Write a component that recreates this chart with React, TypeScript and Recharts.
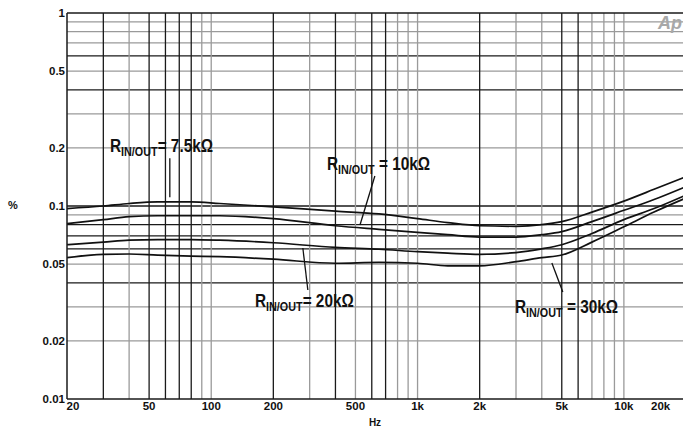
import React from 'react'
import { LineChart, Line, XAxis, YAxis, ReferenceLine } from 'recharts'

// frequency points (Hz) shared by all four curves
const freqs = [20, 30, 40, 55, 80, 110, 200, 400, 650, 1000, 1400, 2000, 3000, 4000, 5000, 7000, 10000, 14000, 20000]

// THD+N (%) for each R_IN/OUT value
const r7k5 = [0.097, 0.100, 0.103, 0.105, 0.105, 0.103, 0.099, 0.094, 0.091, 0.086, 0.082, 0.079, 0.0785, 0.080, 0.083, 0.093, 0.106, 0.122, 0.142]
const r10k = [0.081, 0.085, 0.088, 0.089, 0.089, 0.089, 0.086, 0.079, 0.0757, 0.073, 0.071, 0.069, 0.069, 0.071, 0.0736, 0.083, 0.095, 0.108, 0.126]
const r20k = [0.063, 0.065, 0.0665, 0.067, 0.067, 0.0665, 0.0645, 0.061, 0.0597, 0.058, 0.057, 0.0562, 0.0574, 0.060, 0.063, 0.072, 0.085, 0.097, 0.114]
const r30k = [0.054, 0.0562, 0.0564, 0.0557, 0.055, 0.0546, 0.053, 0.0505, 0.051, 0.0505, 0.049, 0.049, 0.0515, 0.054, 0.0557, 0.065, 0.078, 0.093, 0.110]

const xTicks = [20, 50, 100, 200, 500, 1000, 2000, 5000, 10000, 20000]
const xTickLabels = ['20', '50', '100', '200', '500', '1k', '2k', '5k', '10k', '20k']
const yTicks = [0.01, 0.02, 0.05, 0.1, 0.2, 0.5, 1]

// grid values (1-9 per decade)
const xGrid = [30, 40, 50, 60, 70, 80, 90, 100, 200, 300, 400, 500, 600, 700, 800, 900, 1000, 2000, 3000, 4000, 5000, 6000, 7000, 8000, 9000, 10000]
const yGrid = [0.02, 0.03, 0.04, 0.05, 0.06, 0.07, 0.08, 0.09, 0.1, 0.2, 0.3, 0.4, 0.5, 0.6, 0.7, 0.8, 0.9]
const xGridLight = [40, 90, 100, 300, 500, 800, 900, 1000, 3000, 4000, 7000, 8000, 9000, 10000]
const yGridLight = [0.02, 0.03, 0.05, 0.09, 0.2, 0.3, 0.5, 0.7, 0.8, 0.9]

// leader lines: [f1, v1, f2, v2]
const leaders = [
  [63, 0.177, 63, 0.111],
  [621, 0.143, 526, 0.0797],
  [278, 0.0606, 294, 0.0367],
  [4477, 0.0507, 5059, 0.0358],
]

const data = freqs.map((f, i) => ({ f, a: r7k5[i], b: r10k[i], c: r20k[i], d: r30k[i] }))

const DARK = '#1a1a1a'
const LIGHT = '#9a9a9a'
const tickFont = "'Liberation Sans', Arial, sans-serif"

function XTick(props: any) {
  const { x, y, payload } = props
  const i = xTicks.indexOf(payload.value)
  let anchor = 'middle'
  let dx = 0
  if (i === 0) dx = 6
  if (i === xTicks.length - 1) { anchor = 'start'; dx = -19 }
  return (
    <text x={x + dx} y={y + 11} textAnchor={anchor} fontFamily={tickFont} fontWeight="bold" fontSize={11.5} fill="#111">
      {xTickLabels[i]}
    </text>
  )
}

function Label({ x, y, value, spaced }: { x: number; y: number; value: string; spaced?: boolean }) {
  return (
    <text transform={`translate(${x},${y}) scale(0.83,1)`} fontFamily={tickFont} fontWeight="bold" fontSize={18.5} fill="#111">
      R<tspan fontSize={13} dy={4}>IN/OUT</tspan>
      <tspan fontSize={18.5} dy={-4}>{spaced ? ' = ' : '= '}{value}</tspan>
    </text>
  )
}

export default function App() {
  return (
    <div style={{ position: 'fixed', left: 0, top: 0, width: 683, height: 428, overflow: 'hidden', background: '#fff' }}>
      <LineChart width={690} height={428} data={data} margin={{ top: 13, right: 4, left: 17, bottom: 9 }}>
        <XAxis dataKey="f" type="number" scale="log" domain={[20, 20000]} ticks={xTicks} allowDataOverflow
          tick={<XTick />} tickLine={false} axisLine={{ stroke: DARK, strokeWidth: 1.5 }} height={20} tickSize={0} tickMargin={0} />
        <YAxis type="number" scale="log" domain={[0.01, 1]} ticks={yTicks} allowDataOverflow width={50}
          tickFormatter={v => String(v)} tickLine={false} tickSize={0} tickMargin={2}
          tick={{ fontFamily: tickFont, fontWeight: 'bold', fontSize: 11.5, fill: '#111' }}
          axisLine={{ stroke: DARK, strokeWidth: 1.5 }} />
        {yGrid.map(v => (
          <ReferenceLine key={'y' + v} y={v} stroke={yGridLight.includes(v) ? LIGHT : DARK} strokeWidth={1.3} />
        ))}
        {xGrid.map(v => (
          <ReferenceLine key={'x' + v} x={v} stroke={xGridLight.includes(v) ? LIGHT : DARK} strokeWidth={1.3} />
        ))}
        <ReferenceLine y={1} stroke={DARK} strokeWidth={1.5} />
        {leaders.map((l, i) => (
          <ReferenceLine key={'l' + i} segment={[{ x: l[0], y: l[1] }, { x: l[2], y: l[3] }]} stroke="#111" strokeWidth={1.3} />
        ))}
        <Line type="monotone" dataKey="a" stroke="#111" strokeWidth={1.7} dot={false} isAnimationActive={false} />
        <Line type="monotone" dataKey="b" stroke="#111" strokeWidth={1.7} dot={false} isAnimationActive={false} />
        <Line type="monotone" dataKey="c" stroke="#111" strokeWidth={1.7} dot={false} isAnimationActive={false} />
        <Line type="monotone" dataKey="d" stroke="#111" strokeWidth={1.7} dot={false} isAnimationActive={false} />
      </LineChart>
      <svg width={683} height={428} style={{ position: 'absolute', left: 0, top: 0, pointerEvents: 'none' }}>
        <Label x={110} y={152} value="7.5kΩ" />
        <Label x={327} y={170} value="10kΩ" spaced />
        <Label x={255} y={307} value="20kΩ" />
        <Label x={515} y={313} value="30kΩ" spaced />
        <text x={13} y={209} textAnchor="middle" fontFamily={tickFont} fontWeight="bold" fontSize={11} fill="#111">%</text>
        <text x={375} y={426} textAnchor="middle" fontFamily={tickFont} fontWeight="bold" fontSize={10} fill="#111">Hz</text>
        <text x={682} y={29} textAnchor="end" fontFamily={tickFont} fontWeight="bold" fontStyle="italic" fontSize={18} fill="#a8a8a8">Ap</text>
      </svg>
    </div>
  )
}
